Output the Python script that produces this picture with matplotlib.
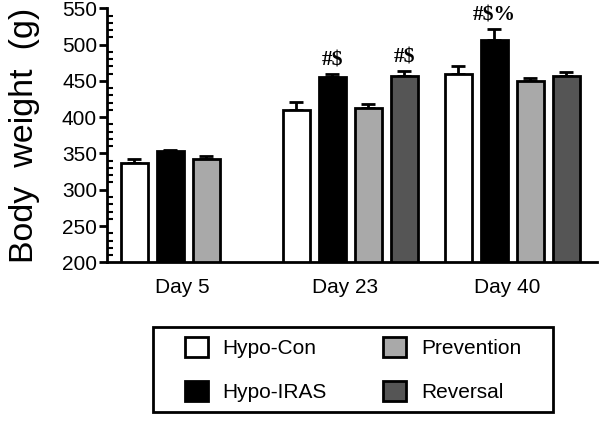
import numpy as np
from matplotlib import pyplot as plt
from matplotlib.patches import Patch, Rectangle
from matplotlib.ticker import MultipleLocator

plt.rcParams['font.family'] = ['Liberation Sans', 'DejaVu Sans']

days = ['Day 5', 'Day 23', 'Day 40']
groups = ['Hypo-Con', 'Hypo-IRAS', 'Prevention', 'Reversal']
colors = ['white', 'black', '#a9a9a9', '#555555']

# mean body weight per group, one value per day (None = not measured)
hypo_con = [337, 410, 459]
hypo_iras = [353, 455, 507]
prevention = [343, 413, 450]
reversal = [None, 457, 457]
# SEM
hypo_con_err = [5, 11, 12]
hypo_iras_err = [2, 5, 14]
prevention_err = [3, 5, 4]
reversal_err = [None, 7, 5]

marks = {('Day 23', 'Hypo-IRAS'): '#$', ('Day 23', 'Reversal'): '#$',
         ('Day 40', 'Hypo-IRAS'): '#$%'}

means = [hypo_con, hypo_iras, prevention, reversal]
errs = [hypo_con_err, hypo_iras_err, prevention_err, reversal_err]

fig = plt.figure(figsize=(6, 4.21), dpi=100)
ax = fig.add_axes([0.178, 0.377, 0.817, 0.603])

group_pos = np.arange(len(days)) * 4.5
for i, g in enumerate(groups):
    for d in range(len(days)):
        v = means[i][d]
        if v is None:
            continue
        x = group_pos[d] + i
        ax.bar(x, v - 200, bottom=200, width=0.75, color=colors[i],
               edgecolor='black', linewidth=2, zorder=3)
        ax.errorbar(x, v, yerr=[[0], [errs[i][d]]], fmt='none', ecolor='black',
                    elinewidth=2, capsize=5, capthick=2, zorder=2)
        if (days[d], g) in marks:
            ax.text(x, v + errs[i][d] + 5, marks[(days[d], g)], ha='center',
                    va='bottom', fontsize=15.5, fontweight='bold',
                    family='Liberation Serif')

ax.set_ylim(200, 550)
ax.set_xlim(-0.76, 12.85)
ax.yaxis.set_major_locator(MultipleLocator(50))
ax.yaxis.set_minor_locator(MultipleLocator(10))
ax.set_xticks(group_pos + 1.35)
ax.set_xticklabels(days, fontsize=15)
ax.tick_params(axis='x', length=0, pad=11)
ax.tick_params(axis='y', which='major', length=6, width=2, labelsize=15, pad=1)
ax.tick_params(axis='y', which='minor', direction='in', length=4, width=1.5)
for s in ['top', 'right']:
    ax.spines[s].set_visible(False)
for s in ['left', 'bottom']:
    ax.spines[s].set_linewidth(2)
ax.set_ylabel('Body  weight  (g)', fontsize=24.5, labelpad=16)

# legend frame drawn separately so the columns can sit in the middle
box = (0.255, 0.021, 0.667, 0.202)
fig.patches.append(Rectangle(box[:2], box[2], box[3], transform=fig.transFigure,
                             facecolor='white', edgecolor='black', linewidth=2))
handles = [Patch(facecolor=c, edgecolor='black', linewidth=2) for c in colors]
fig.legend(handles, groups, loc='center',
           bbox_to_anchor=(box[0] + box[2] / 2, box[1] + box[3] / 2),
           ncol=2, fontsize=15, frameon=False, handlelength=1.1,
           handleheight=1.1, handletextpad=0.7, labelspacing=1.1,
           borderpad=0, columnspacing=2.7)

fig.savefig('out.png', dpi=100)
